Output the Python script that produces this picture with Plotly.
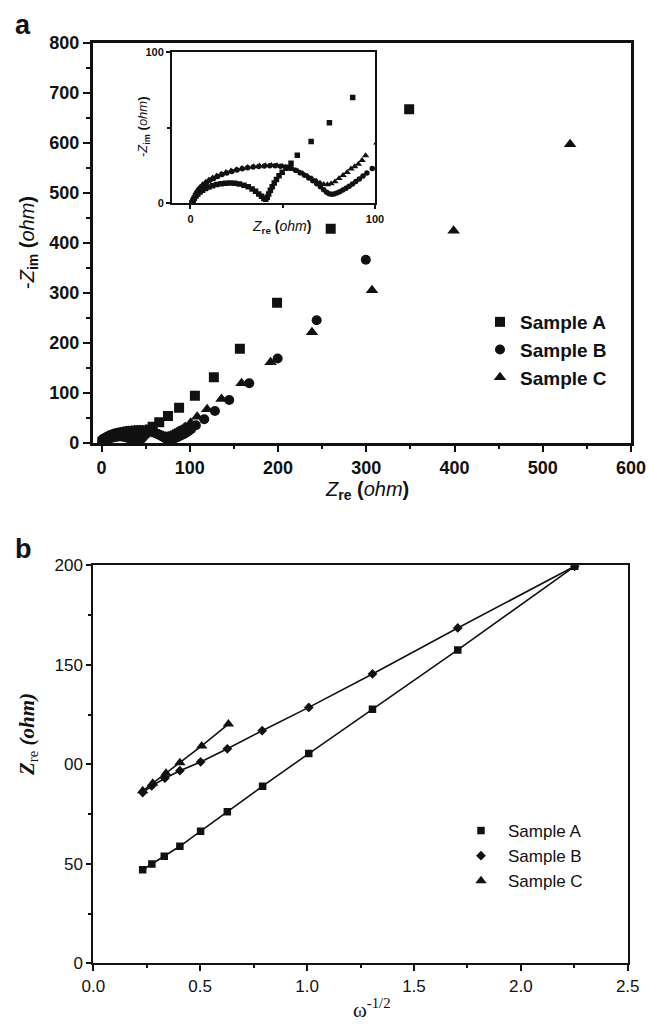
import plotly.graph_objects as go

# ---------------- Panel a: Nyquist data (Z_re, -Z_im in ohm) ----------------
A_re = [0.8, 1.4, 2.1, 3.0, 4.0, 5.2, 6.6, 8.2, 10.0, 12.0, 14.2, 16.6, 19.0, 21.5, 24.0,
        26.5, 29.0, 31.3, 33.4, 35.3, 37.0, 38.5, 39.8, 40.8, 41.6, 42.4, 43.3, 44.3, 45.4,
        46.6, 48.0, 49.7, 51.8, 54.5, 57.9, 65.4, 75.3, 87.9, 105.8, 127.3, 156.8, 198.9,
        259.7, 348.6]
A_im = [0.3, 1.8, 3.3, 4.8, 6.2, 7.5, 8.7, 9.8, 10.8, 11.7, 12.4, 13.0, 13.3, 13.4, 13.2,
        12.8, 12.0, 10.9, 9.5, 7.9, 6.2, 4.6, 3.2, 2.6, 4.0, 6.2, 8.6, 11.0, 13.4,
        15.8, 18.2, 20.6, 23.2, 26.6, 31.8, 41.0, 53.3, 70.0, 94.0, 131.0, 188.0, 280.0,
        428.0, 667.0]

B_re = [1.5, 2.0, 2.7, 3.5, 4.5, 5.7, 7.1, 8.7, 10.5, 12.5, 14.7, 17.1, 19.7, 22.4, 25.2,
        28.1, 31.0, 34.0, 37.0, 40.0, 43.0, 45.9, 48.8, 51.6, 54.3, 56.9, 59.4, 61.8, 64.1,
        66.3, 68.4, 70.4, 72.2, 73.8, 75.1, 76.4, 77.8, 79.3, 80.9, 82.6, 84.3, 86.0, 87.8,
        89.6, 91.5, 93.5, 95.6, 98.5, 101.5, 106.9, 116.4, 128.5, 144.7, 167.4, 199.6,
        243.8, 299.5]
B_im = [0.5, 3.0, 5.2, 7.2, 9.0, 10.7, 12.3, 13.8, 15.2, 16.5, 17.8, 19.0, 20.1, 21.1, 22.0,
        22.8, 23.5, 24.0, 24.4, 24.7, 24.8, 24.8, 24.6, 24.1, 23.2, 21.9, 20.3, 18.6, 16.8,
        15.0, 13.0, 11.0, 9.0, 7.3, 6.3, 6.0, 6.2, 6.8, 7.7, 8.8, 10.0, 11.3, 12.8,
        14.4, 16.1, 18.0, 20.0, 23.0, 27.0, 34.8, 46.8, 63.4, 85.4, 118.8, 168.5,
        245.0, 366.0]

C_re = [1.0, 1.5, 2.2, 3.0, 4.0, 5.2, 6.6, 8.2, 10.0, 12.0, 14.2, 16.6, 19.2, 22.0, 24.9,
        27.9, 31.0, 34.2, 37.4, 40.6, 43.8, 46.9, 49.9, 52.8, 55.6, 58.3, 60.9, 63.4, 65.8,
        68.1, 70.2, 72.2, 74.2, 76.2, 78.3, 80.5, 82.7, 84.9, 87.0, 89.0, 91.0, 93.0, 94.9,
        101.0, 108.4, 119.7, 136.0, 158.7, 191.6, 238.5, 306.5, 399.0, 531.0]
C_im = [0.4, 2.8, 5.0, 7.0, 8.9, 10.7, 12.4, 14.0, 15.5, 16.9, 18.2, 19.4, 20.5, 21.5, 22.4,
        23.2, 23.9, 24.4, 24.8, 25.1, 25.2, 25.0, 24.5, 23.7, 22.6, 21.2, 19.7, 18.1, 16.5,
        14.9, 13.5, 12.6, 12.4, 13.0, 14.3, 16.5, 18.5, 20.5, 22.8, 24.3, 26.0, 28.5, 31.6,
        40.0, 52.0, 66.8, 87.5, 118.8, 160.8, 221.0, 305.0, 424.0, 597.0]

# ---------------- Panel b: Z_re vs omega^-1/2 ----------------
wA = [0.231, 0.274, 0.332, 0.405, 0.502, 0.627, 0.792, 1.008, 1.306, 1.705, 2.252]
ZA = [47.0, 49.9, 53.8, 58.8, 66.4, 76.2, 89.0, 105.4, 127.7, 157.5, 199.5]
wB = [0.231, 0.273, 0.335, 0.405, 0.502, 0.627, 0.790, 1.008, 1.306, 1.705, 2.252]
ZB = [85.8, 89.1, 93.0, 96.8, 101.2, 107.8, 116.9, 128.6, 145.4, 168.5, 199.5]
wC = [0.231, 0.278, 0.340, 0.405, 0.507, 0.632]
ZC = [86.7, 90.5, 95.5, 100.8, 109.2, 120.2]

names = ["Sample A", "Sample B", "Sample C"]
a_xticks = [0, 100, 200, 300, 400, 500, 600]
a_yticks = [0, 100, 200, 300, 400, 500, 600, 700, 800]
inset_ticks = [0, 100]
b_xticks = [0, 0.5, 1.0, 1.5, 2.0, 2.5]
b_xticktext = ["0.0", "0.5", "1.0", "1.5", "2.0", "2.5"]
b_yticks = [0, 50, 100, 150, 200]
b_yticktext = ["0", "50", "00", "150", "200"]

W, H = 648, 1028
def fx(p): return p / W
def fy(p): return 1 - p / H

INK = "#111111"
fig = go.Figure()

main_sym = ["square", "circle", "triangle-up"]
main_size = [10, 10, 11]
inset_size = [5.5, 5.5, 6.5]
series_a = [(A_re, A_im), (B_re, B_im), (C_re, C_im)]
for i, (xs, ys) in enumerate(series_a):
    fig.add_trace(go.Scatter(x=xs, y=ys, mode="markers", name=names[i],
                             marker=dict(symbol=main_sym[i], size=main_size[i], color=INK),
                             xaxis="x", yaxis="y", legend="legend"))
for i, (xs, ys) in enumerate(series_a):
    fig.add_trace(go.Scatter(x=xs, y=ys, mode="markers", showlegend=False,
                             marker=dict(symbol=main_sym[i], size=inset_size[i], color=INK),
                             xaxis="x3", yaxis="y3"))

b_sym = ["square", "diamond", "triangle-up"]
b_size = [7.5, 7.5, 10]
series_b = [(wA, ZA), (wB, ZB), (wC, ZC)]
for i, (xs, ys) in enumerate(series_b):
    fig.add_trace(go.Scatter(x=xs, y=ys, mode="lines", showlegend=False,
                             line=dict(color=INK, width=1.6),
                             xaxis="x2", yaxis="y2"))
for i, (xs, ys) in enumerate(series_b):
    fig.add_trace(go.Scatter(x=xs, y=ys, mode="markers", name=names[i],
                             marker=dict(symbol=b_sym[i], size=b_size[i], color=INK),
                             xaxis="x2", yaxis="y2", legend="legend2"))

boldfont = dict(family="Liberation Sans, Arial, sans-serif", size=18, color=INK, weight="bold")
regfont = dict(family="Liberation Sans, Arial, sans-serif", size=17, color=INK)
insetfont = dict(family="Liberation Sans, Arial", size=11, color=INK, weight="bold")

def ax(**kw):
    base = dict(showgrid=False, zeroline=False, showline=True, linecolor=INK,
                mirror=True, ticks="outside", tickcolor=INK, automargin=False)
    base.update(kw)
    return base

def minor(d, ln, w):
    return dict(dtick=d, tick0=0, ticks="outside", ticklen=ln, tickwidth=w, tickcolor=INK, showgrid=False)

fig.update_layout(
    template="none",
    width=W, height=H, margin=dict(l=0, r=0, t=0, b=0, pad=0), autosize=False,
    paper_bgcolor="white", plot_bgcolor="white",
    xaxis=ax(domain=[fx(92.7), fx(631)], range=[-10, 600], anchor="y",
             tickvals=a_xticks, linewidth=2.5, tickwidth=2, ticklen=7,
             minor=minor(50, 4, 2), tickfont=boldfont),
    yaxis=ax(domain=[fy(442.7), fy(42.7)], range=[0, 800], anchor="x",
             tickvals=a_yticks, linewidth=2.5, tickwidth=2, ticklen=7,
             minor=minor(50, 4, 2), tickfont=boldfont),
    xaxis3=ax(domain=[fx(172), fx(375)], range=[-10, 100], anchor="y3",
              tickvals=inset_ticks, linewidth=2, tickwidth=1.5, ticklen=4,
              minor=minor(50, 3, 1.5), tickfont=insetfont),
    yaxis3=ax(domain=[fy(203.3), fy(52.3)], range=[0, 100], anchor="x3",
              tickvals=inset_ticks, linewidth=2, tickwidth=1.5, ticklen=4,
              minor=minor(50, 3, 1.5), tickfont=insetfont),
    xaxis2=ax(domain=[fx(93.3), fx(627.7)], range=[0, 2.5], anchor="y2",
              tickvals=b_xticks, ticktext=b_xticktext,
              linewidth=2, tickwidth=2, ticklen=6,
              minor=minor(0.25, 3, 2), tickfont=regfont),
    yaxis2=ax(domain=[fy(963.3), fy(565.3)], range=[0, 200], anchor="x2",
              tickvals=b_yticks, ticktext=b_yticktext,
              linewidth=2, tickwidth=2, ticklen=5,
              minor=minor(25, 3, 2), tickfont=regfont),
    legend=dict(x=fx(480), y=fy(303), xanchor="left", yanchor="top", bgcolor="rgba(0,0,0,0)",
                font=dict(family="Liberation Sans, Arial", size=19, color=INK, weight="bold"),
                tracegroupgap=0),
    legend2=dict(x=fx(454), y=fy(813), xanchor="left", yanchor="top", bgcolor="rgba(0,0,0,0)",
                 font=dict(family="Liberation Sans, Arial", size=17, color=INK),
                 itemwidth=44),
    showlegend=True,
    hovermode=False,
)

def note(text, x, y, size, family="Liberation Sans, Arial", angle=0):
    return dict(text=text, x=fx(x), y=fy(y), xref="paper", yref="paper", showarrow=False,
                xanchor="center", yanchor="middle", textangle=angle,
                font=dict(family=family, size=size, color=INK))

serif = "Liberation Serif, Times New Roman, serif"
ann = [
    note("<b>a</b>", 23, 25, 27),
    note("<b>b</b>", 23, 549, 27),
    note("-<i>Z</i><sub><b>im</b></sub> <b>(</b><i>ohm</i><b>)</b>", 28, 243, 20, angle=-90),
    note("<i>Z</i><sub><b>re</b></sub> <b>(</b><i>ohm</i><b>)</b>", 367, 490, 20),
    note("-<i>Z</i><sub><b>im</b></sub> <b>(</b><i>ohm</i><b>)</b>", 143, 127, 13, angle=-90),
    note("<i>Z</i><sub><b>re</b></sub> <b>(</b><i>ohm</i><b>)</b>", 281, 227, 14),
    note("<b><i>Z</i></b><sub>re</sub><b><i> (ohm)</i></b>", 28, 735, 21, family=serif, angle=-90),
    note("ω<sup>-1/2</sup>", 372, 1008, 21, family=serif),
]
fig.update_layout(annotations=ann)

# remove the default 8 px page margin so the figure fills the window exactly
fig.write_html("out.html",
               config={"displayModeBar": False},
               post_script="document.body.style.margin='0px';document.body.style.overflow='hidden';")
